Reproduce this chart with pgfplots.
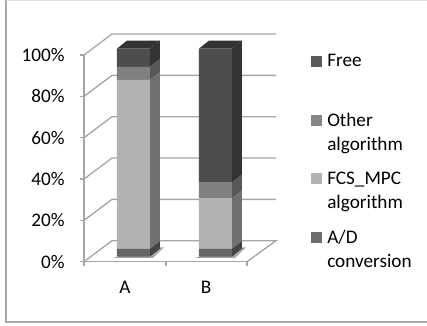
\documentclass[border=0pt]{standalone}
\usepackage{pgfplots}
\pgfplotsset{compat=1.18}
\usepackage{fontspec}
\setmainfont{Carlito}
\definecolor{gridc}{HTML}{A6A6A6}
\definecolor{freeF}{HTML}{4D4D4D}\definecolor{freeS}{HTML}{333333}
\definecolor{otherF}{HTML}{808080}\definecolor{otherS}{HTML}{585858}
\definecolor{fcsF}{HTML}{B2B2B2}\definecolor{fcsS}{HTML}{707070}
\definecolor{adF}{HTML}{666666}\definecolor{adS}{HTML}{444444}
\definecolor{keyFree}{HTML}{595959}\definecolor{keyOther}{HTML}{868686}
\definecolor{keyFcs}{HTML}{B2B2B2}\definecolor{keyAd}{HTML}{6D6D6D}
\newcommand{\lab}{\fontsize{14.4}{18}\selectfont}
\pgfplotsset{
  common/.style={
    scale only axis, width=122.25pt, xmin=84, xmax=247,
    ymin=0, ymax=100, clip=false},
  hidden/.style={common, hide axis, height=156pt, at={(0,3.75pt)}, anchor=origin},
}
\begin{document}
\begin{tikzpicture}
\path[use as bounding box] (-63pt,-47.475pt) rectangle (257.25pt,196.275pt);
% value axis with the back wall and the floor
\begin{axis}[common, height=155pt, at={(0,0)}, anchor=origin,
    axis y line=left, axis x line=bottom, axis line style={gridc, line width=1pt, -},
    ytick={0,20,40,60,80,100}, yticklabel={\pgfmathprintnumber{\tick}\%},
    /pgf/number format/assume math mode=true,
    yticklabel style={xshift=-8pt},
    xtick={84,166,247}, xticklabels={},
    extra x ticks={125,206}, extra x tick labels={A,B},
    extra x tick style={major tick length=0pt, tick label style={yshift=-11pt}},
    tick style={gridc, line width=1pt}, major tick length=3pt,
    tick align=outside, tick pos=left,
    tick label style={font=\lab, black}]
  \addplot[gridc, line width=1pt] coordinates {(84,100) (112,110.16) (276,110.16)};
  \addplot[gridc, line width=1pt] coordinates {(84,80) (112,90.16) (276,90.16)};
  \addplot[gridc, line width=1pt] coordinates {(84,60) (112,70.16) (276,70.16)};
  \addplot[gridc, line width=1pt] coordinates {(84,40) (112,50.16) (276,50.16)};
  \addplot[gridc, line width=1pt] coordinates {(84,20) (112,30.16) (276,30.16)};
  \addplot[gridc, line width=1pt] coordinates {(84,0) (112,10.16) (276,10.16) (247,0)};
\end{axis}
% side and top faces of the columns
\begin{axis}[hidden, height=156pt]
  \addplot[black, opacity=0.35, fill=black, draw=none] coordinates {(113,-0.6) (153,-0.6) (164,4.5) (150,4.5)} -- cycle;
  \addplot[black, opacity=0.35, fill=black, draw=none] coordinates {(195,-0.6) (235,-0.6) (246,4.5) (232,4.5)} -- cycle;
  \addplot[fill=adS, draw=none] coordinates {(149.85,0) (159.85,3.85) (159.85,7.65) (149.85,3.8)} -- cycle;
  \addplot[fill=fcsS, draw=none] coordinates {(149.85,3.8) (159.85,7.65) (159.85,88.85) (149.85,85)} -- cycle;
  \addplot[fill=otherS, draw=none] coordinates {(149.85,85) (159.85,88.85) (159.85,95.15) (149.85,91.3)} -- cycle;
  \addplot[fill=freeS, draw=none] coordinates {(149.85,91.3) (159.85,95.15) (159.85,103.85) (149.85,100)} -- cycle;
  \addplot[fill=freeS, draw=none] coordinates {(116.85,100) (126.85,103.85) (159.85,103.85) (149.85,100)} -- cycle;
  \addplot[fill=adS, draw=none] coordinates {(231.85,0) (241.85,3.85) (241.85,7.65) (231.85,3.8)} -- cycle;
  \addplot[fill=fcsS, draw=none] coordinates {(231.85,3.8) (241.85,7.65) (241.85,31.85) (231.85,28)} -- cycle;
  \addplot[fill=otherS, draw=none] coordinates {(231.85,28) (241.85,31.85) (241.85,39.45) (231.85,35.6)} -- cycle;
  \addplot[fill=freeS, draw=none] coordinates {(231.85,35.6) (241.85,39.45) (241.85,103.85) (231.85,100)} -- cycle;
  \addplot[fill=freeS, draw=none] coordinates {(198.85,100) (208.85,103.85) (241.85,103.85) (231.85,100)} -- cycle;
\end{axis}
% front faces of the stacked columns
\begin{axis}[hidden, height=156pt, ybar stacked, bar width=24.75pt]
  \addplot[fill=adF, draw=none] coordinates {(133.35,3.8) (215.35,3.8)};
  \addplot[fill=fcsF, draw=none] coordinates {(133.35,81.2) (215.35,24.2)};
  \addplot[fill=otherF, draw=none] coordinates {(133.35,6.3) (215.35,7.6)};
  \addplot[fill=freeF, draw=none] coordinates {(133.35,8.7) (215.35,64.4)};
\end{axis}
% legend and outer frame
\begin{scope}[x=0.75pt, y=-0.75pt, shift={(-84,-261.7)}]
  \draw[gray!70, line width=0.9pt] (6,0.4) -- (6,322) -- (427,322);
  \draw[gray!25, line width=0.6pt] (6,0.4) -- (427,0.4);
  \fill[keyFree] (311,55.7) rectangle (322,66.7);
  \fill[keyOther] (311,115) rectangle (322,126);
  \fill[keyFcs] (311,173.3) rectangle (322,184.3);
  \fill[keyAd] (311,232) rectangle (322,243);
  \node[anchor=base west, inner sep=0pt, font=\lab] at (327,66.7) {Free};
  \node[anchor=base west, inner sep=0pt, font=\lab] at (327,126) {Other};
  \node[anchor=base west, inner sep=0pt, font=\lab] at (327,150) {algorithm};
  \node[anchor=base west, inner sep=0pt, font=\lab] at (327,184) {FCS\_MPC};
  \node[anchor=base west, inner sep=0pt, font=\lab] at (327,208) {algorithm};
  \node[anchor=base west, inner sep=0pt, font=\lab] at (327,243) {A/D};
  \node[anchor=base west, inner sep=0pt, font=\lab] at (327,267) {conversion};
\end{scope}
\end{tikzpicture}
\end{document}
